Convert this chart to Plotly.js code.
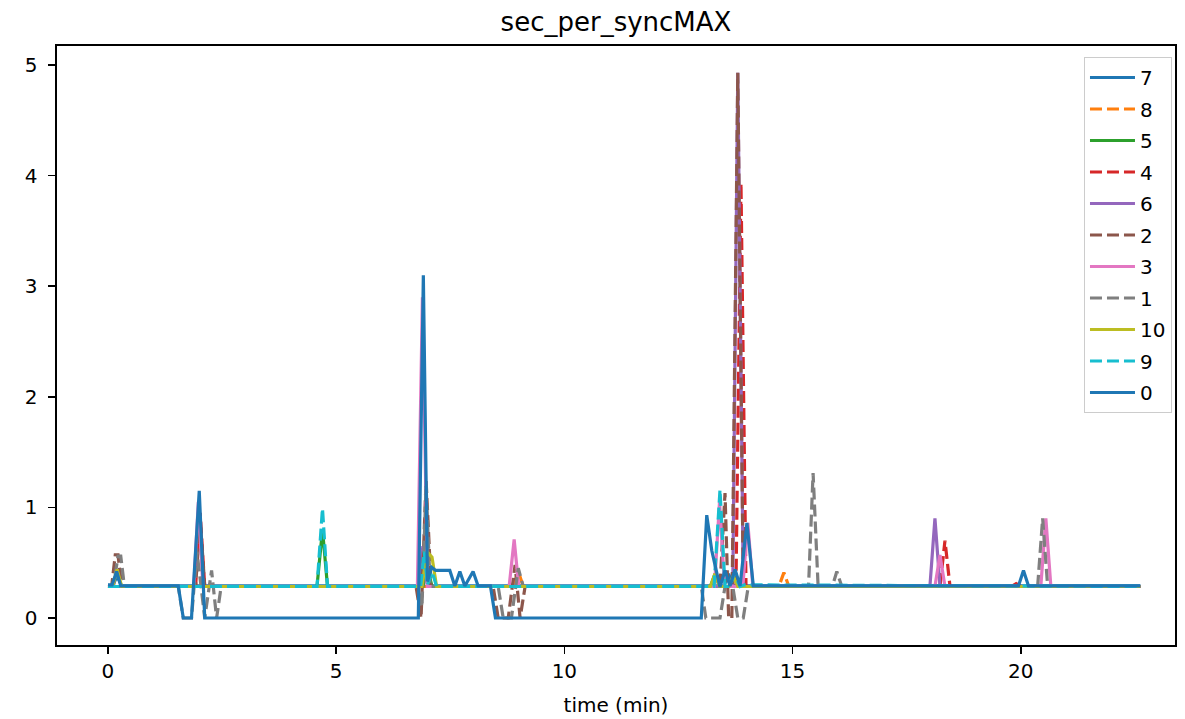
<!DOCTYPE html>
<html>
<head>
<meta charset="utf-8">
<script src="https://cdn.plot.ly/plotly-3.0.1.min.js"></script>
<style>html,body{margin:0;padding:0;background:#fff;}#chart{width:1185px;height:719px;}</style>
</head>
<body>
<div id="chart"></div>
<script>
// series names in legend order
const seriesNames = ['7','8','5','4','6','2','3','1','10','9','0'];

// time (min) and sec_per_syncMAX vertices
const t7 = [0, 0.1, 0.2, 0.3, 6.8, 6.91, 7.02, 13.5, 13.6, 13.7, 22.62];
const v7 = [0.29, 0.29, 0.38, 0.29, 0.29, 0.55, 0.29, 0.29, 0.4, 0.29, 0.29];

const t8 = [0, 8.88, 8.99, 9.1, 14.7, 14.81, 14.92, 22.62];
const v8 = [0.285, 0.285, 0.42, 0.285, 0.285, 0.41, 0.285, 0.285];

const t5 = [0, 4.58, 4.70, 4.81, 6.9, 7.0, 7.1, 13.2, 13.3, 13.4, 22.62];
const v5 = [0.285, 0.285, 0.80, 0.285, 0.285, 0.45, 0.285, 0.285, 0.40, 0.285, 0.285];

const t4 = [0, 1.92, 2.02, 2.12, 13.76, 13.87, 13.98, 18.23, 18.34, 18.45, 19.8, 19.9, 20.0, 22.62];
const v4 = [0.285, 0.285, 0.95, 0.285, 0.285, 3.93, 0.285, 0.285, 0.70, 0.285, 0.285, 0.31, 0.285, 0.285];

const t6 = [0, 6.8, 6.9, 7.0, 13.69, 13.80, 13.92, 18.01, 18.12, 18.23, 22.62];
const v6 = [0.285, 0.285, 0.65, 0.285, 0.285, 4.93, 0.285, 0.285, 0.90, 0.285, 0.285];

const t2 = [0, 0.08, 0.16, 0.22, 0.3, 1.92, 2.02, 2.12, 6.75, 6.86, 6.97, 7.08, 8.44, 8.55, 8.77, 8.92, 9.03, 9.14, 13.41, 13.52, 13.6, 13.67, 13.80, 13.92, 22.62];
const v2 = [0.285, 0.285, 0.57, 0.57, 0.285, 0.285, 0.9, 0.285, 0.285, 0, 1.25, 0.285, 0.285, 0, 0, 0.48, 0, 0.285, 0.285, 1.13, 0, 0, 4.93, 0.285, 0.285];

const t3 = [0, 1.88, 1.98, 2.08, 6.78, 6.89, 7.0, 8.79, 8.90, 9.0, 13.29, 13.40, 13.51, 13.91, 14.02, 14.13, 18.12, 18.23, 18.34, 20.44, 20.55, 20.66, 22.62];
const v3 = [0.285, 0.285, 1.05, 0.285, 0.285, 2.9, 0.285, 0.285, 0.71, 0.285, 0.285, 1.05, 0.285, 0.285, 0.86, 0.285, 0.285, 0.57, 0.285, 0.285, 0.90, 0.285, 0.285];

const t1 = [0, 0.12, 0.22, 0.28, 0.36, 1.54, 1.65, 1.83, 1.95, 2.12, 2.27, 2.38, 2.48, 6.8, 6.88, 6.97, 7.06, 8.55, 8.66, 8.84, 8.99, 9.1, 13.0, 13.1, 13.41, 13.52, 13.69, 13.8, 13.92, 14.03, 15.35, 15.45, 15.56, 15.87, 15.97, 16.08, 20.37, 20.48, 20.59, 22.62];
const v1 = [0.285, 0.285, 0.56, 0.56, 0.285, 0.285, 0, 0, 0.6, 0, 0.43, 0, 0.285, 0.285, 0.1, 1.2, 0.285, 0.285, 0, 0, 0.45, 0.285, 0.285, 0, 0, 0.285, 0.285, 0, 0, 0.285, 0.285, 1.31, 0.285, 0.285, 0.42, 0.285, 0.285, 0.90, 0.285, 0.285];

const t10 = [0, 0.1, 0.2, 0.3, 6.88, 6.99, 7.1, 7.2, 13.2, 13.3, 13.4, 13.6, 13.7, 13.8, 22.62];
const v10 = [0.285, 0.285, 0.44, 0.285, 0.285, 0.6, 0.55, 0.285, 0.285, 0.4, 0.285, 0.285, 0.38, 0.285, 0.285];

const t9 = [0, 4.58, 4.70, 4.81, 6.85, 6.93, 7.0, 7.1, 7.2, 13.28, 13.41, 13.52, 13.63, 13.72, 13.85, 13.95, 22.62];
const v9 = [0.285, 0.285, 0.99, 0.285, 0.285, 0.6, 0.3, 0.42, 0.285, 0.285, 1.16, 0.285, 0.285, 0.4, 0.285, 0.3, 0.285];

const t0 = [0, 0.09, 0.19, 0.28, 1.54, 1.65, 1.83, 2.0, 2.12, 6.80, 6.91, 7.0, 7.09, 7.18, 7.49, 7.60, 7.71, 7.82, 8.0, 8.11, 8.38, 8.49, 13.0, 13.12, 13.23, 13.41, 13.52, 13.63, 13.74, 13.85, 14.0, 14.14, 19.95, 20.06, 20.17, 22.62];
const v0 = [0.30, 0.30, 0.42, 0.29, 0.29, 0, 0, 1.15, 0, 0, 3.1, 0.33, 0.46, 0.43, 0.43, 0.29, 0.42, 0.29, 0.42, 0.29, 0.29, 0, 0, 0.93, 0.61, 0.28, 0.43, 0.29, 0.44, 0.29, 0.86, 0.29, 0.29, 0.43, 0.29, 0.29];

const xs = [t7, t8, t5, t4, t6, t2, t3, t1, t10, t9, t0];
const ys = [v7, v8, v5, v4, v6, v2, v3, v1, v10, v9, v0];
const colors = ['#1f77b4','#ff7f0e','#2ca02c','#d62728','#9467bd','#8c564b','#e377c2','#7f7f7f','#bcbd22','#17becf','#1f77b4'];
const dashed = [false,true,false,true,false,true,false,true,false,true,false];

const traces = seriesNames.map((n, i) => ({
  type: 'scatter', mode: 'lines', name: n, legendgroup: 'g' + n,
  x: xs[i], y: ys[i],
  line: {color: colors[i], width: 3.2, dash: dashed[i] ? '12px,5px' : 'solid'}
}));

const fontFam = 'DejaVu Sans, sans-serif';
const layout = {
  width: 1185, height: 719,
  margin: {l: 57, r: 10, t: 46, b: 74},
  paper_bgcolor: '#fff', plot_bgcolor: '#fff',
  font: {family: fontFam, size: 20, color: '#000'},
  title: {text: 'sec_per_syncMAX', font: {family: fontFam, size: 26, color: '#000'},
          x: 0.5, xref: 'paper', y: 1 - 22/719, yref: 'container', yanchor: 'middle'},
  xaxis: {range: [-1.117, 23.38], tickvals: [0,5,10,15,20], ticktext: ['0','5','10','15','20'],
          ticks: 'outside', ticklen: 7, tickwidth: 1.6, tickcolor: '#000',
          showline: true, mirror: true, linecolor: '#000', linewidth: 1.6,
          showgrid: false, zeroline: false, tickfont: {size: 20},
          title: {text: 'time (min)', font: {size: 20}, standoff: 16}},
  yaxis: {range: [-0.244, 5.172], tickvals: [0,1,2,3,4,5], ticktext: ['0','1','2','3','4','5'],
          ticks: 'outside', ticklen: 7, tickwidth: 1.6, tickcolor: '#000', ticklabelstandoff: 7,
          showline: true, mirror: true, linecolor: '#000', linewidth: 1.6,
          showgrid: false, zeroline: false, tickfont: {size: 20}},
  showlegend: true,
  legend: {x: 0.9973, y: 0.9816, xanchor: 'right', yanchor: 'top',
           bgcolor: 'rgba(255,255,255,0.8)', bordercolor: '#cccccc', borderwidth: 1,
           font: {size: 20}, tracegroupgap: 2.5, itemwidth: 45}
};

Plotly.newPlot('chart', traces, layout, {displayModeBar: false, staticPlot: true});
</script>
</body>
</html>
